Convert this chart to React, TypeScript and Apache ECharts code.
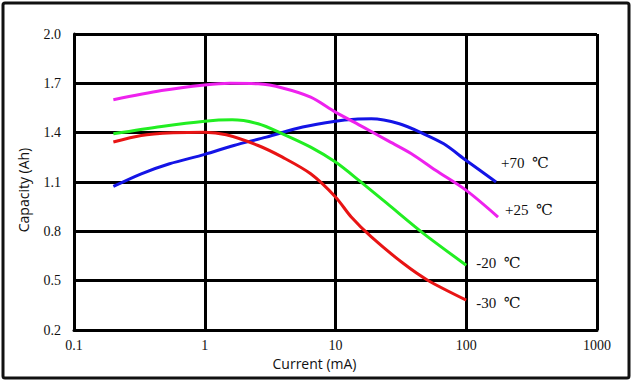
import React, { useEffect, useRef } from "react";
import * as echarts from "echarts";

const seriesNames = ["+70  ℃", "+25  ℃", "-20  ℃", "-30  ℃"];
const seriesColors = ["#1414e6", "#ee22ee", "#22ee22", "#e81414"];

const blue70: [number, number][] = [
  [0.2, 1.073], [0.327, 1.15], [0.538, 1.211], [1, 1.268], [1.67, 1.322], [2.96, 1.373],
  [5.61, 1.434], [10, 1.47], [14.1, 1.482], [18.8, 1.484], [30.8, 1.454], [47.2, 1.393],
  [67.3, 1.332], [100, 1.231], [169, 1.1],
];
const magenta25: [number, number][] = [
  [0.2, 1.6], [0.467, 1.656], [1, 1.69], [1.56, 1.7], [2.56, 1.697], [3.93, 1.672],
  [6.46, 1.616], [10, 1.525], [16.3, 1.434], [24.9, 1.353], [38.1, 1.272], [58.3, 1.171],
  [100, 1.049], [175, 0.887],
];
const green20: [number, number][] = [
  [0.2, 1.393], [0.467, 1.438], [1, 1.47], [1.62, 1.478], [2.56, 1.454], [3.93, 1.393],
  [6.46, 1.312], [10, 1.221], [15.1, 1.11], [24.9, 0.968], [47.2, 0.786], [100, 0.594],
];
const red30: [number, number][] = [
  [0.2, 1.343], [0.327, 1.383], [0.578, 1.399], [1, 1.403], [1.46, 1.387], [2.56, 1.322],
  [3.93, 1.251], [6.46, 1.15], [10, 1.009], [13.2, 0.887], [18.8, 0.766], [33.1, 0.604],
  [50.7, 0.503], [100, 0.382],
];
const seriesData = [blue70, magenta25, green20, red30];
const labelOffsets: [number, number][] = [[5, -19], [7, -7], [10, -2], [10, 3]];

export default function App() {
  const ref = useRef<HTMLDivElement>(null);
  useEffect(() => {
    if (!ref.current) return;
    const chart = echarts.init(ref.current, null, { renderer: "svg" });
    const serif = "'Liberation Serif', 'DejaVu Serif', serif";
    chart.setOption({
      animation: false,
      backgroundColor: "#ffffff",
      textStyle: { fontFamily: serif },
      grid: { left: 74, right: 34, top: 34, bottom: 52, containLabel: false },
      graphic: [
        {
          type: "rect",
          shape: { x: 3, y: 3, width: 626, height: 375, r: 2 },
          style: { fill: "none", stroke: "#111", lineWidth: 3 },
          silent: true,
        },
      ],
      xAxis: {
        type: "log",
        logBase: 10,
        min: 0.1,
        max: 1000,
        name: "Current (mA)",
        nameLocation: "middle",
        nameGap: 26,
        nameTextStyle: { fontFamily: "Open Sans", fontSize: 14, color: "#111", padding: [0, 42, 0, 0] },
        axisLine: { show: true, lineStyle: { color: "#000", width: 3 } },
        axisTick: { show: false },
        axisLabel: {
          fontFamily: serif, fontSize: 14, color: "#111", margin: 8,
          formatter: (v: number) => String(v),
        },
        splitLine: { show: true, lineStyle: { color: "#000", width: 3 } },
      },
      yAxis: {
        type: "value",
        min: 0.2,
        max: 2.0,
        interval: 0.3,
        name: "Capacity (Ah)",
        nameLocation: "middle",
        nameGap: 44,
        nameTextStyle: { fontFamily: "Open Sans", fontSize: 14, color: "#111", padding: [0, 16, 0, 0] },
        axisLine: { show: true, lineStyle: { color: "#000", width: 3 } },
        axisTick: { show: false },
        axisLabel: {
          fontFamily: serif, fontSize: 14, color: "#111", margin: 13,
          formatter: (v: number) => v.toFixed(1),
        },
        splitLine: { show: true, lineStyle: { color: "#000", width: 3 } },
      },
      series: seriesData.map((d, i) => ({
        type: "line",
        name: seriesNames[i],
        data: d,
        smooth: 0.3,
        showSymbol: false,
        symbol: "none",
        lineStyle: { color: seriesColors[i], width: 3 },
        itemStyle: { color: seriesColors[i] },
        z: 3,
        endLabel: {
          show: true,
          formatter: () => seriesNames[i],
          distance: 0,
          offset: labelOffsets[i],
          color: "#111",
          fontFamily: serif,
          fontSize: 15,
        },
      })),
    });
    return () => chart.dispose();
  }, []);
  return (
    <div style={{ position: "fixed", left: 0, top: 0, width: 631, height: 382 }}>
      <div ref={ref} style={{ width: 631, height: 382 }} />
    </div>
  );
}
